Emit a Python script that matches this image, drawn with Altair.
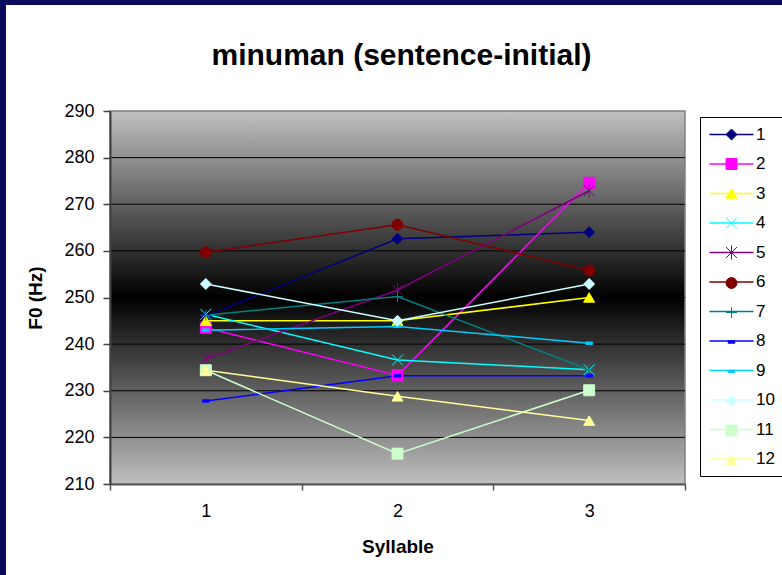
import altair as alt
import pandas as pd

# ---------------- data ----------------
syllables = [1, 2, 3]
series_names = ["1", "2", "3", "4", "5", "6", "7", "8", "9", "10", "11", "12"]
s1 = [246.0, 262.6, 264.0]
s2 = [243.5, 233.3, 274.6]
s3 = [245.0, 245.0, 250.0]
s4 = [246.4, 236.6, 234.5]
s5 = [236.8, 251.6, 272.9]
s6 = [259.7, 265.6, 255.8]
s7 = [246.2, 250.2, 234.5]
s8 = [227.8, 233.2, 233.2]
s9 = [243.0, 243.8, 240.2]
s10 = [252.9, 245.0, 252.9]
s11 = [234.4, 216.5, 230.1]
s12 = [234.4, 228.8, 223.6]
all_series = [s1, s2, s3, s4, s5, s6, s7, s8, s9, s10, s11, s12]

series_colors = ["#000080", "#FF00FF", "#FFFF00", "#00FFFF", "#800080", "#800000",
                 "#008080", "#0000FF", "#00CCFF", "#CCFFFF", "#CCFFCC", "#FFFF99"]
series_shapes = [
    "diamond", "square", "triangle-up",
    "M-1,-1L1,1M-1,1L1,-1",
    "M-1,-1L1,1M-1,1L1,-1M0,-1.3L0,1.3",
    "circle",
    "M-1,0L1,0M0,-1L0,1",
    "M-0.6,-0.22L0.6,-0.22L0.6,0.22L-0.6,0.22Z",
    "M-0.6,-0.22L0.6,-0.22L0.6,0.22L-0.6,0.22Z",
    "diamond", "square", "triangle-up",
]

x_domain = [0.5, 3.5]
y_domain = [210, 290]
x_tick_values = [0.5, 1.5, 2.5, 3.5]
y_tick_values = list(range(210, 291, 5))
grid_values = [220, 230, 240, 250, 260, 270, 280]

rows = []
for idx, vals in enumerate(all_series):
    for s, v in zip(syllables, vals):
        rows.append({"syllable": s, "f0": v, "series_l": idx + 1, "series_p": idx + 1})
df = pd.DataFrame(rows)

FONT = "Liberation Sans"
W, H = 575, 373

x_scale = alt.Scale(domain=x_domain, nice=False, zero=False)
y_scale = alt.Scale(domain=y_domain, nice=False, zero=False)

x_axis = alt.Axis(
    values=x_tick_values,
    labelExpr="datum.value < 3 ? format(datum.value + 0.5, 'd') : ''",
    labelOffset=W / 6,
    labelFlush=False,
    labelOverlap=False,
    labelBound=False,
    tickSize=6,
    tickColor="#555555",
    tickWidth=1.5,
    domainColor="#555555",
    domainWidth=2,
    grid=False,
    labelFont=FONT, labelFontSize=18, labelColor="black", labelPadding=12,
    title="Syllable", titleFont=FONT, titleFontSize=19, titleFontWeight="bold",
    titleColor="black", titlePadding=17,
    zindex=1,
)
y_axis = alt.Axis(
    values=y_tick_values,
    labelExpr="datum.value % 10 == 0 ? datum.label : ''",
    tickSize={"condition": {"test": "datum.value % 10 == 0", "value": 7}, "value": 4},
    tickColor="#404040",
    tickWidth=1.5,
    domainColor="#404040",
    domainWidth=2,
    grid=False,
    labelOverlap=False,
    labelFont=FONT, labelFontSize=18, labelColor="black", labelPadding=9,
    title="F0 (Hz)", titleFont=FONT, titleFontSize=19, titleFontWeight="bold",
    titleColor="black", titlePadding=18,
    zindex=1,
)

# white page area (the navy frame shows on top/left edges)
page = alt.Chart(pd.DataFrame({"a": [0]})).mark_rect(color="white").encode(
    x=alt.value(-104), x2=alt.value(700), y=alt.value(-106), y2=alt.value(480)
)

# plot-area gradient background spanning the axis domains
bg_df = pd.DataFrame({"x0": [x_domain[0]], "x1": [x_domain[1]],
                      "y0": [y_domain[0]], "y1": [y_domain[1]]})
gradient = alt.Gradient(
    gradient="linear", x1=0, x2=0, y1=0, y2=1,
    stops=[
        alt.GradientStop(color="#c0c0c0", offset=0),
        alt.GradientStop(color="#000000", offset=0.5),
        alt.GradientStop(color="#c0c0c0", offset=1),
    ],
)
background = alt.Chart(bg_df).mark_rect(fill=gradient, stroke="#808080", strokeWidth=1.5).encode(
    x=alt.X("x0:Q", scale=x_scale, axis=x_axis),
    x2="x1:Q",
    y=alt.Y("y0:Q", scale=y_scale, axis=y_axis),
    y2="y1:Q",
)

grid = alt.Chart(pd.DataFrame({"v": grid_values})).mark_rule(color="black", strokeWidth=1).encode(
    y=alt.Y("v:Q", scale=y_scale)
)

legend_a = alt.Legend(
    title=None, orient="none", legendX=590, legendY=6, direction="vertical",
    symbolType="M-3.67,0L3.67,0", symbolSize=144, symbolStrokeWidth=1.5,
    symbolOffset=14,
    labelFont=FONT, labelFontSize=17, labelColor="black", labelOffset=16,
    padding=9, rowPadding=11.5, strokeColor="black", fillColor="white",
)
legend_b = alt.Legend(
    title=None, orient="none", legendX=613, legendY=15, direction="vertical",
    symbolSize=120, symbolStrokeWidth=1,
    labelExpr="' '",
    labelFont=FONT, labelFontSize=17, labelOpacity=0, labelOffset=7,
    padding=0, rowPadding=11.5,
)

lines = alt.Chart(df).mark_line(strokeWidth=1.5).encode(
    x=alt.X("syllable:Q", scale=x_scale),
    y=alt.Y("f0:Q", scale=y_scale),
    color=alt.Color("series_l:O", scale=alt.Scale(range=series_colors), legend=legend_a),
    detail="series_l:O",
)

points = alt.Chart(df).mark_point(filled=True, size=120, strokeWidth=1, opacity=1).encode(
    x=alt.X("syllable:Q", scale=x_scale),
    y=alt.Y("f0:Q", scale=y_scale),
    fill=alt.Fill("series_p:O", scale=alt.Scale(range=series_colors), legend=legend_b),
    stroke=alt.Stroke("series_p:O", scale=alt.Scale(range=series_colors), legend=legend_b),
    shape=alt.Shape("series_p:O", scale=alt.Scale(range=series_shapes), legend=legend_b),
)

chart = alt.layer(page, background, grid, lines, points).properties(
    width=W, height=H,
    autosize=alt.AutoSizeParams(type="none"),
    padding={"left": 110, "top": 111, "right": 97, "bottom": 91},
    background="#0b0b5e",
    title=alt.TitleParams(
        "minuman (sentence-initial)", font=FONT, fontSize=30, fontWeight="bold",
        color="black", anchor="middle", frame="group", dx=4, dy=90, offset=0,
        baseline="alphabetic",
    ),
).configure_view(stroke=None)

chart.save("out.html", embed_options={"renderer": "svg", "actions": False})
